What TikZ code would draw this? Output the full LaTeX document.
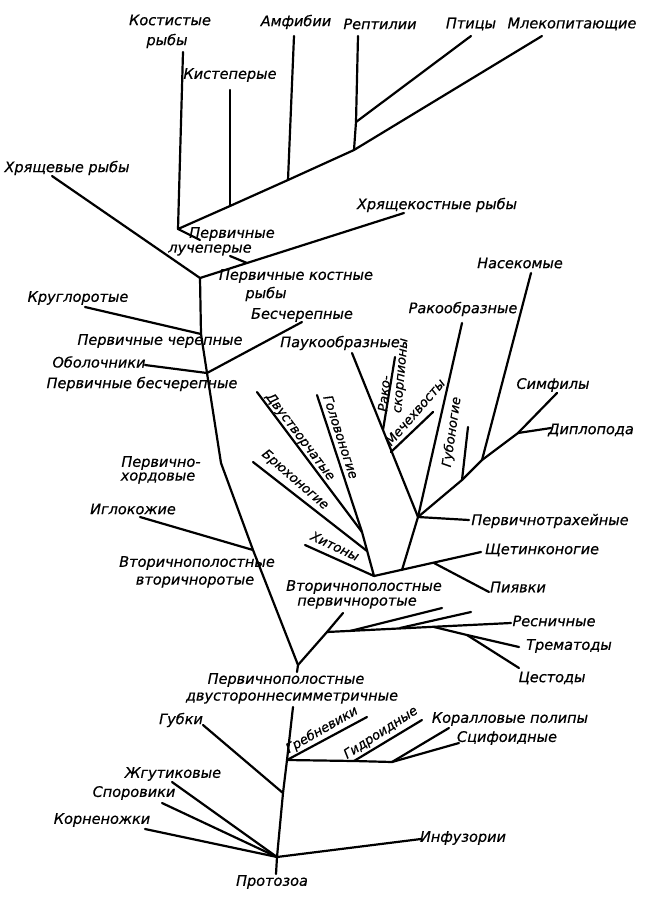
\documentclass[tikz,border=0pt]{standalone}
\usepackage{fontspec}
\setmainfont{DejaVu Sans}[ItalicFeatures={FakeBold=0.6}]
\begin{document}
\begin{tikzpicture}[x=1pt,y=-1pt,
  br/.style={line width=2.2pt, line cap=round, line join=round},
  lbl/.style={font=\fontsize{14.5}{16}\selectfont\itshape, inner sep=0pt},
  slbl/.style={font=\fontsize{13}{14}\selectfont\itshape, inner sep=0pt},
]
\useasboundingbox (0,0) rectangle (648,900);

% ---------- coordinates: chordates ----------
\coordinate (kostT) at (183,52);
\coordinate (jLuch) at (178,229);
\coordinate (jKist) at (230,206);
\coordinate (kistT) at (230,90);
\coordinate (jAmf) at (288,180);
\coordinate (amfT) at (294,36);
\coordinate (jRep) at (354,150);
\coordinate (repT) at (358,36);
\coordinate (jBird) at (356,122);
\coordinate (birdT) at (471,36);
\coordinate (mamT) at (542,36);
\coordinate (gap1) at (200,240);
\coordinate (gap2) at (230,256);
\coordinate (jLu2) at (247,263);
\coordinate (jKost) at (200,278);
\coordinate (chondT) at (52,176);
\coordinate (chkT) at (404,213);
\coordinate (jCher) at (201,334);
\coordinate (cyclT) at (85,307);
\coordinate (jBes) at (207,373);
\coordinate (tunT) at (145,365);
\coordinate (besT) at (302,322);
\coordinate (bend1) at (221,463);
\coordinate (jDeut) at (253,550);
\coordinate (echT) at (140,517);
\coordinate (jPerv) at (298,665);

% ---------- flatworms ----------
\coordinate (jFlat) at (327,632);
\coordinate (flatT) at (343,613);
\coordinate (cilT) at (511,623);
\coordinate (f1) at (350,631);
\coordinate (f1T) at (442,608);
\coordinate (f2) at (400,628);
\coordinate (f2T) at (471,612);
\coordinate (jTrem) at (434,627);
\coordinate (tremT) at (519,647);
\coordinate (jCest) at (467,635);
\coordinate (cestT) at (519,668);

% ---------- lower stem ----------
\coordinate (s1) at (297,672);
\coordinate (s2) at (293,707);
\coordinate (jCoel) at (287,760);
\coordinate (jGub) at (283,793);
\coordinate (jProto) at (277,857);
\coordinate (protoB) at (276,874);
\coordinate (ctenT) at (367,717);
\coordinate (jHyd) at (354,761);
\coordinate (hydT) at (422,720);
\coordinate (jCor) at (392,762);
\coordinate (corT) at (449,728);
\coordinate (scyT) at (459,743);
\coordinate (gubT) at (203,725);
\coordinate (flagT) at (172,782);
\coordinate (sporT) at (162,803);
\coordinate (rhizT) at (145,829);
\coordinate (infT) at (421,839);

% ---------- protostome coelomates ----------
\coordinate (J) at (374,576);
\coordinate (jMol) at (362,532);
\coordinate (bivT) at (257,392);
\coordinate (cephT) at (317,395);
\coordinate (gastT) at (253,462);
\coordinate (jGast) at (367,551);
\coordinate (chitT) at (305,545);
\coordinate (jA0) at (402,570);
\coordinate (jLeech) at (434,563);
\coordinate (polyT) at (481,552);
\coordinate (leechT) at (489,592);
\coordinate (A) at (418,517);
\coordinate (onyT) at (469,520);
\coordinate (arachT) at (352,353);
\coordinate (jEur) at (383,430);
\coordinate (eurT) at (395,357);
\coordinate (jXiph) at (391,452);
\coordinate (xiphT) at (433,412);
\coordinate (crusT) at (462,323);
\coordinate (jChil) at (462,480);
\coordinate (chilT) at (468,427);
\coordinate (jIns) at (482,460);
\coordinate (insT) at (531,273);
\coordinate (jDip) at (518,433);
\coordinate (dipT) at (551,428);
\coordinate (symT) at (557,393);

% ---------- branches ----------
\draw[br] (kostT) -- (jLuch);
\draw[br] (jLuch) -- (jKist) -- (jAmf) -- (jRep) -- (mamT);
\draw[br] (kistT) -- (jKist);
\draw[br] (amfT) -- (jAmf);
\draw[br] (repT) -- (jBird) -- (jRep);
\draw[br] (jBird) -- (birdT);
\draw[br] (jLuch) -- (gap1);
\draw[br] (gap2) -- (jLu2);
\draw[br] (chondT) -- (jKost) -- (jLu2) -- (chkT);
\draw[br] (jKost) -- (jCher) -- (jBes) -- (bend1) -- (jDeut) -- (jPerv);
\draw[br] (cyclT) -- (jCher);
\draw[br] (tunT) -- (jBes);
\draw[br] (besT) -- (jBes);
\draw[br] (echT) -- (jDeut);

\draw[br] (jPerv) -- (jFlat) -- (flatT);
\draw[br] (jFlat) -- (cilT);
\draw[br] (f1) -- (f1T);
\draw[br] (f2) -- (f2T);
\draw[br] (jTrem) -- (jCest) -- (tremT);
\draw[br] (jCest) -- (cestT);

\draw[br] (jPerv) -- (s1);
\draw[br] (s2) -- (jCoel) -- (jGub) -- (jProto) -- (protoB);
\draw[br] (jCoel) -- (ctenT);
\draw[br] (jCoel) -- (jHyd) -- (jCor);
\draw[br] (jHyd) -- (hydT);
\draw[br] (jCor) -- (corT);
\draw[br] (jCor) -- (scyT);
\draw[br] (gubT) -- (jGub);
\draw[br] (flagT) -- (jProto);
\draw[br] (sporT) -- (jProto);
\draw[br] (rhizT) -- (jProto);
\draw[br] (jProto) -- (infT);

\draw[br] (bivT) -- (jMol);
\draw[br] (cephT) -- (jMol);
\draw[br] (jMol) -- (J);
\draw[br] (gastT) -- (jGast);
\draw[br] (chitT) -- (J);
\draw[br] (J) -- (polyT);
\draw[br] (jLeech) -- (leechT);
\draw[br] (jA0) -- (A);
\draw[br] (A) -- (onyT);
\draw[br] (arachT) -- (A);
\draw[br] (eurT) -- (jEur);
\draw[br] (xiphT) -- (jXiph);
\draw[br] (crusT) -- (A);
\draw[br] (A) -- (jChil) -- (jIns) -- (jDip) -- (symT);
\draw[br] (chilT) -- (jChil);
\draw[br] (insT) -- (jIns);
\draw[br] (jDip) -- (dipT);

% ---------- labels ----------
\node[lbl] (tKost1) at (170,20) {Костистые};
\node[lbl] (tKost2) at (167,41) {рыбы};
\node[lbl] (tKist) at (230,75) {Кистеперые};
\node[lbl] (tAmf) at (296,22) {Амфибии};
\node[lbl] (tRep) at (380,24) {Рептилии};
\node[lbl] (tBird) at (471,24) {Птицы};
\node[lbl] (tMam) at (572,24) {Млекопитающие};
\node[lbl] (tChond) at (67,168) {Хрящевые рыбы};
\node[lbl] (tChk) at (437,205) {Хрящекостные рыбы};
\node[lbl] (tLu1) at (232,234) {Первичные};
\node[lbl] (tLu2) at (210,250) {лучеперые};
\node[lbl] (tPk1) at (296,276) {Первичные костные};
\node[lbl] (tPk2) at (266,294) {рыбы};
\node[lbl] (tCycl) at (78,298) {Круглоротые};
\node[lbl] (tCher) at (160,341) {Первичные черепные};
\node[lbl] (tBes) at (302,315) {Бесчерепные};
\node[lbl] (tTun) at (99,362) {Оболочники};
\node[lbl] (tPbes) at (142,384) {Первичные бесчерепные};
\node[lbl] (tArach) at (340,343) {Паукообразные};
\node[lbl] (tCrus) at (463,309) {Ракообразные};
\node[lbl] (tIns) at (520,263) {Насекомые};
\node[lbl] (tSym) at (553,385) {Симфилы};
\node[lbl] (tDip) at (591,430) {Диплопода};
\node[lbl] (tOny) at (550,521) {Первичнотрахейные};
\node[lbl] (tPoly) at (542,550) {Щетинконогие};
\node[lbl] (tLeech) at (518,587) {Пиявки};
\node[lbl] (tHor1) at (161,463) {Первично-};
\node[lbl] (tHor2) at (158,478) {хордовые};
\node[lbl] (tEch) at (133,509) {Иглокожие};
\node[lbl] (tDeut1) at (197,563) {Вторичнополостные};
\node[lbl] (tDeut2) at (195,582) {вторичноротые};
\node[lbl] (tProt1) at (364,587) {Вторичнополостные};
\node[lbl] (tProt2) at (357,603) {первичноротые};
\node[lbl] (tCil) at (554,621) {Ресничные};
\node[lbl] (tTrem) at (569,646) {Трематоды};
\node[lbl] (tCest) at (552,678) {Цестоды};
\node[lbl] (tPerv1) at (286,680) {Первичнополостные};
\node[lbl] (tPerv2) at (292,698) {двустороннесимметричные};
\node[lbl] (tGub) at (181,720) {Губки};
\node[lbl] (tCor) at (510,719) {Коралловые полипы};
\node[lbl] (tScy) at (507,738) {Сцифоидные};
\node[lbl] (tFlag) at (173,774) {Жгутиковые};
\node[lbl] (tSpor) at (134,793) {Споровики};
\node[lbl] (tRhiz) at (102,820) {Корненожки};
\node[lbl] (tInf) at (463,838) {Инфузории};
\node[lbl] (tProto) at (272,882) {Протозоа};

% rotated labels
\node[slbl, rotate=85, align=left] (tEur) at (394,375) {Рако-\\скорпионы};
\node[slbl, rotate=49] (tXiph) at (415,412) {Мечехвосты};
\node[slbl, rotate=82] (tChil) at (452,432) {Губоногие};
\node[slbl, rotate=-53] (tBiv) at (300,437) {Двустворчатые};
\node[slbl, rotate=-72] (tCeph) at (341,437) {Головоногие};
\node[slbl, rotate=-41] (tGast) at (295,480) {Брюхоногие};
\node[slbl, rotate=-25] (tChit) at (335,546) {Хитоны};
\node[slbl, rotate=30] (tCten) at (322,730) {Гребневики};
\node[slbl, rotate=33] (tHyd) at (381,733) {Гидроидные};
\end{tikzpicture}
\end{document}
